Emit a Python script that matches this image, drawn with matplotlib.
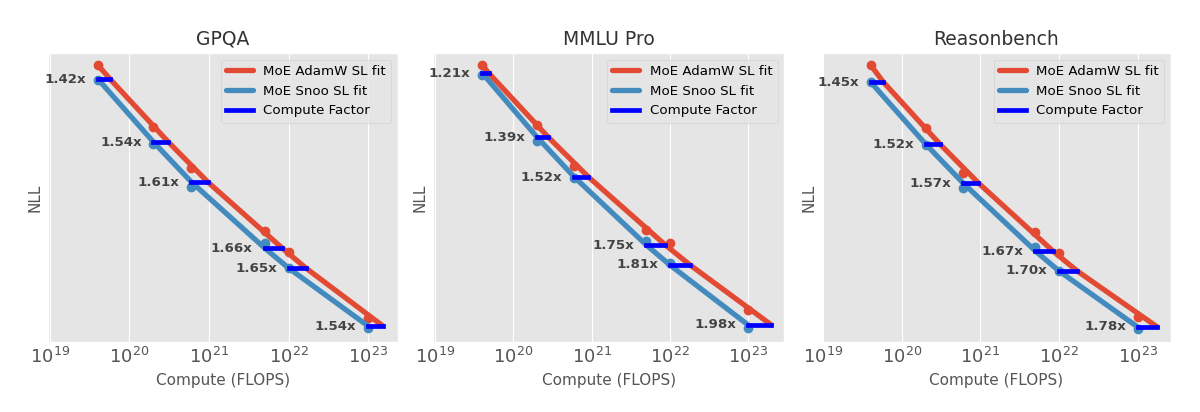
import matplotlib
matplotlib.use('Agg')
import matplotlib.pyplot as plt

plt.style.use('ggplot')

# ---------------- data ----------------
titles = ['GPQA', 'MMLU Pro', 'Reasonbench']
compute = [4e19, 2e20, 6e20, 5e21, 1e22, 1e23]
xtick_values = [1e19, 1e20, 1e21, 1e22, 1e23]

# GPQA
gpqa_adamw = [3.27, 2.65, 2.24, 1.61, 1.40, 0.74]
gpqa_snoo = [3.12, 2.48, 2.05, 1.49, 1.24, 0.64]
gpqa_snoo_fit = [3.13, 2.50, 2.10, 1.44, 1.24, 0.66]
gpqa_adamw_fit_start = 3.27
gpqa_factors = [1.42, 1.54, 1.61, 1.66, 1.65, 1.54]

# MMLU Pro
mmlu_adamw = [3.27, 2.67, 2.26, 1.62, 1.49, 0.82]
mmlu_snoo = [3.17, 2.51, 2.14, 1.51, 1.29, 0.64]
mmlu_snoo_fit = [3.19, 2.55, 2.15, 1.47, 1.27, 0.67]
mmlu_adamw_fit_start = 3.27
mmlu_factors = [1.21, 1.39, 1.52, 1.75, 1.81, 1.98]

# Reasonbench
reason_adamw = [3.27, 2.64, 2.19, 1.60, 1.39, 0.75]
reason_snoo = [3.10, 2.47, 2.04, 1.45, 1.21, 0.63]
reason_snoo_fit = [3.10, 2.48, 2.09, 1.41, 1.21, 0.65]
reason_adamw_fit_start = 3.27
reason_factors = [1.45, 1.52, 1.57, 1.67, 1.70, 1.78]

panels = [
    (gpqa_adamw, gpqa_snoo, gpqa_snoo_fit, gpqa_adamw_fit_start, gpqa_factors),
    (mmlu_adamw, mmlu_snoo, mmlu_snoo_fit, mmlu_adamw_fit_start, mmlu_factors),
    (reason_adamw, reason_snoo, reason_snoo_fit, reason_adamw_fit_start, reason_factors),
]

# ---------------- styling / layout ----------------
RED = '#E24A33'
BLUE = '#438BBF'
CF = '#0000FF'

fig = plt.figure(figsize=(12, 4.12), dpi=100)
positions = [
    (48 / 1200, 70 / 412, 350 / 1200, 289 / 412),
    (433.3 / 1200, 70 / 412, 351 / 1200, 289 / 412),
    (821.7 / 1200, 70 / 412, 349.3 / 1200, 289 / 412),
]
xlims = [
    (10 ** 18.975, 10 ** 23.377),
    (10 ** 18.978, 10 ** 23.461),
    (10 ** 18.980, 10 ** 23.424),
]

for title, pos, xlim, (adamw, snoo, snoo_fit, a_start, factors) in zip(
        titles, positions, xlims, panels):
    ax = fig.add_axes(pos)

    # AdamW: data points and fit (fit reaches Snoo's loss at compute*factor)
    red_fit_x = [compute[0]] + [c * f for c, f in zip(compute, factors)]
    red_fit_y = [a_start] + list(snoo_fit)
    ax.plot(compute, adamw, 'o', color=RED, ms=6, zorder=2)
    ax.plot(red_fit_x, red_fit_y, '-', color=RED, lw=3.8,
            solid_capstyle='round', label='MoE AdamW SL fit', zorder=2)

    # Snoo: data points and fit
    ax.plot(compute, snoo, 'o', color=BLUE, ms=6, zorder=2.1)
    ax.plot(compute, snoo_fit, '-', color=BLUE, lw=3.8,
            solid_capstyle='round', label='MoE Snoo SL fit', zorder=2.1)

    # Compute factor segments
    for i, (c, f, y) in enumerate(zip(compute, factors, snoo_fit)):
        ax.plot([c, c * f], [y, y], '-', color=CF, lw=3.4,
                solid_capstyle='projecting',
                label='Compute Factor' if i == 0 else None, zorder=3)
        ax.annotate(f'{f:.2f}x', (c, y), xytext=(-8.5, 0),
                    textcoords='offset points', ha='right', va='center',
                    fontsize=9.6, fontweight='bold', color='#444444', zorder=4)

    ax.set_xscale('log')
    ax.set_xlim(*xlim)
    ax.set_ylim(0.5, 3.39)
    ax.set_xticks(xtick_values)
    ax.set_yticks([])
    ax.tick_params(axis='x', which='both', length=0, pad=3.5,
                   labelsize=13, colors='#555555')
    ax.tick_params(axis='x', which='minor', labelbottom=False)
    ax.set_title(title, fontsize=13.5, color='#333333')
    ax.set_xlabel('Compute (FLOPS)', fontsize=11, color='#555555')
    ax.set_ylabel('NLL', fontsize=11, color='#555555')
    ax.legend(loc='upper right', fontsize=9.6)

fig.savefig('out.png', dpi=100)
